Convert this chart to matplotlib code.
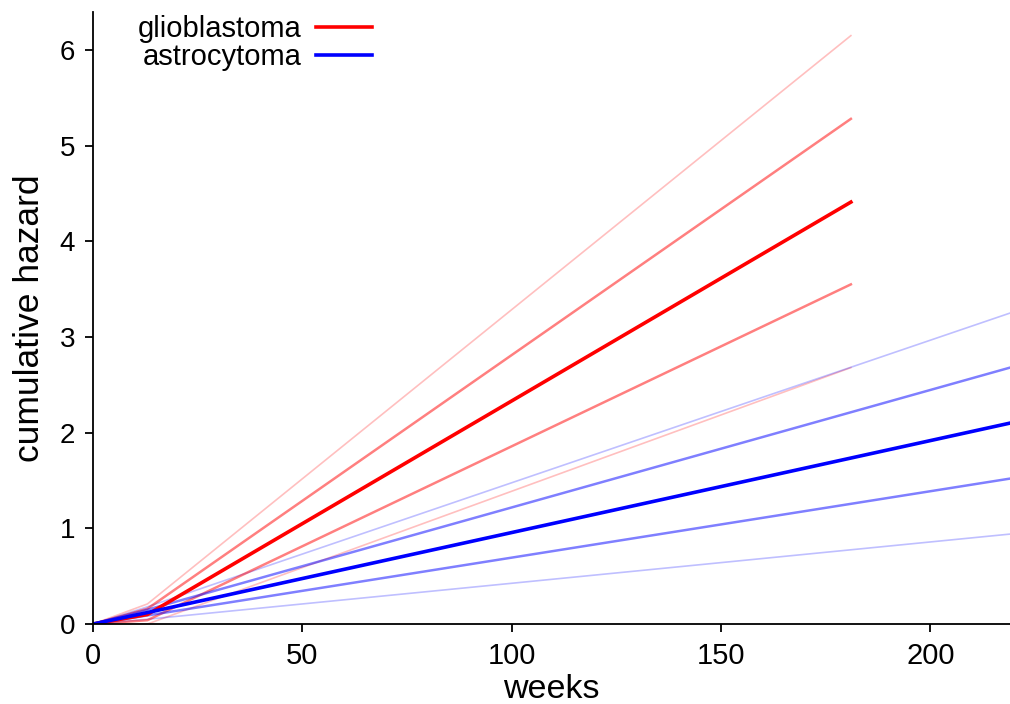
import matplotlib
matplotlib.use("Agg")
import matplotlib.pyplot as plt

plt.rcParams['font.family'] = ['Liberation Sans', 'DejaVu Sans']

# cumulative hazard, posterior mean and quantile bands
weeks_glio = [0, 13, 181]
glio_mean = [0, 0.10, 4.41]
glio_q_hi = [0, 0.16, 5.28]
glio_q_lo = [0, 0.04, 3.55]
glio_q_hi2 = [0, 0.21, 6.15]
glio_q_lo2 = [0, 0.00, 2.68]

weeks_astro = [0, 13, 219]
astro_mean = [0, 0.12, 2.10]
astro_q_hi = [0, 0.15, 2.68]
astro_q_lo = [0, 0.09, 1.52]
astro_q_hi2 = [0, 0.18, 3.25]
astro_q_lo2 = [0, 0.05, 0.94]

fig = plt.figure(figsize=(10.1, 7.04), dpi=100)
ax = fig.add_axes([0.0921, 0.1136, 0.9079, 0.8698])

for w, series, col in [(weeks_glio, (glio_q_hi2, glio_q_lo2), 'red'),
                       (weeks_astro, (astro_q_hi2, astro_q_lo2), 'blue')]:
    for s in series:
        ax.plot(w, s, color=col, alpha=0.25, lw=1.2)
for w, series, col in [(weeks_glio, (glio_q_hi, glio_q_lo), 'red'),
                       (weeks_astro, (astro_q_hi, astro_q_lo), 'blue')]:
    for s in series:
        ax.plot(w, s, color=col, alpha=0.5, lw=1.8)

ax.plot(weeks_glio, glio_mean, color='red', lw=2.6, label='glioblastoma')
ax.plot(weeks_astro, astro_mean, color='blue', lw=2.6, label='astrocytoma')

ax.set_xlim(0, 219)
ax.set_ylim(0, 6.4)
ax.set_xticks([0, 50, 100, 150, 200])
ax.set_yticks([0, 1, 2, 3, 4, 5, 6])
ax.spines['top'].set_visible(False)
ax.spines['right'].set_visible(False)
for sp in ['left', 'bottom']:
    ax.spines[sp].set_linewidth(1.3)
ax.tick_params(axis='both', direction='out', length=6, width=1.3)
ax.tick_params(axis='x', labelsize=21, pad=7)
ax.tick_params(axis='y', labelsize=20, pad=7)

ax.set_xlabel('weeks', fontsize=24.5, labelpad=3)
ax.set_ylabel('cumulative hazard', fontsize=25.5, labelpad=10)

ax.legend(loc='upper left', bbox_to_anchor=(0.049, 0.995), frameon=False,
          markerfirst=False, fontsize=21, handlelength=1.9, handletextpad=0.5,
          labelspacing=0.0, borderpad=0, borderaxespad=0)

fig.savefig('out.png', dpi=100)
